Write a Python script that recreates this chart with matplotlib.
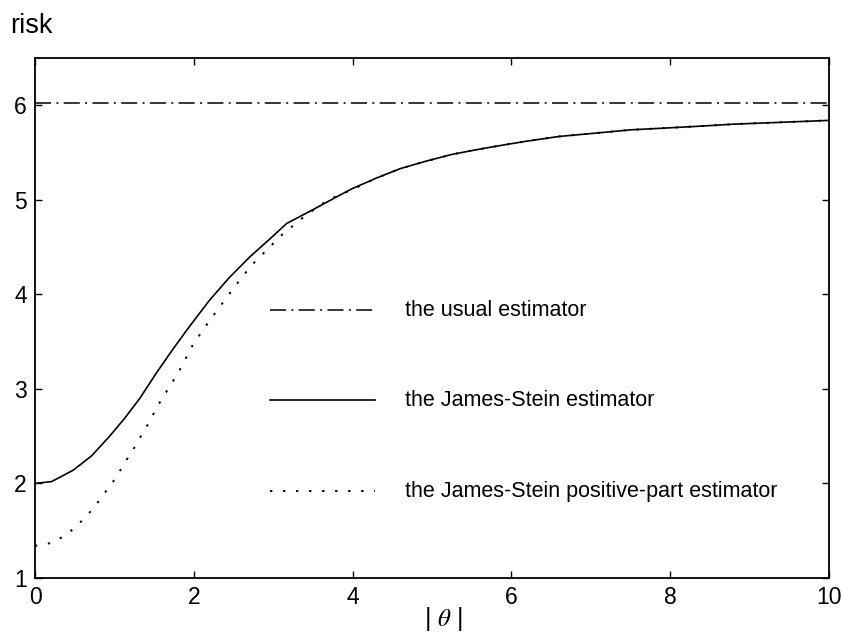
import matplotlib
matplotlib.use("Agg")
import matplotlib.pyplot as plt

plt.rcParams['font.family'] = ['Liberation Sans', 'DejaVu Sans']
plt.rcParams['mathtext.fontset'] = 'stix'

# usual estimator risk (constant)
usual_x = [0, 10]
usual_y = [6.02, 6.02]

# James-Stein estimator risk
js_x = [0.0, 0.21, 0.48, 0.71, 0.94, 1.13, 1.32, 1.53, 1.72, 1.91, 2.0, 2.2, 2.45, 2.71, 2.95,
        3.17, 3.51, 3.84, 4.0, 4.3, 4.6, 4.93, 5.25, 5.56, 5.9, 6.19, 6.6, 7.12, 7.5, 7.96,
        8.4, 8.79, 9.4, 10.0]
js_y = [2.0, 2.02, 2.14, 2.29, 2.50, 2.69, 2.90, 3.17, 3.40, 3.62, 3.72, 3.94, 4.18, 4.40, 4.58,
        4.75, 4.90, 5.05, 5.12, 5.23, 5.33, 5.41, 5.48, 5.53, 5.58, 5.62, 5.67, 5.71, 5.74, 5.76,
        5.78, 5.80, 5.82, 5.84]

# James-Stein positive-part estimator risk
jsp_x = [0.0, 0.2, 0.36, 0.5, 0.63, 0.75, 0.86, 0.97, 1.06, 1.16, 1.26, 1.34, 1.44, 1.53,
         1.67, 1.81, 1.99, 2.18, 2.39, 2.56, 2.73, 2.92, 3.11, 3.40, 3.69, 4.0, 4.3, 4.6,
         4.93, 5.25, 5.56, 5.9, 6.19, 6.6, 7.12, 7.5, 7.96, 8.4, 8.79, 9.4, 10.0]
jsp_y = [1.34, 1.37, 1.44, 1.53, 1.64, 1.75, 1.88, 2.00, 2.12, 2.26, 2.39, 2.51, 2.65, 2.80,
         2.99, 3.18, 3.47, 3.70, 3.94, 4.13, 4.31, 4.47, 4.63, 4.83, 5.00, 5.11, 5.23, 5.33,
         5.41, 5.48, 5.53, 5.58, 5.62, 5.67, 5.71, 5.74, 5.76, 5.78, 5.80, 5.82, 5.84]

labels = ["the usual estimator", "the James-Stein estimator",
          "the James-Stein positive-part estimator"]

x_ticks = [0, 2, 4, 6, 8, 10]
y_ticks = [1, 2, 3, 4, 5, 6]

dashdot = (0, (10.5, 3.5, 1.3, 3.5))
dotted = (0, (1.2, 5.5))

fig = plt.figure(figsize=(8.43, 6.38), dpi=100)
ax = fig.add_axes([35/843, 60/638, (829-35)/843, (578-58)/638])

ax.plot(usual_x, usual_y, color='black', lw=1.1, linestyle=dashdot)
ax.plot(js_x, js_y, color='black', lw=1.2, linestyle='-')
ax.plot(jsp_x, jsp_y, color='black', lw=1.4, linestyle=dotted)

# in-plot legend annotations
leg_x = [2.96, 4.28]
leg_y = [3.83, 2.88, 1.92]
styles = [dashdot, '-', dotted]
widths = [1.1, 1.2, 1.4]
for yy, st, lw, lab in zip(leg_y, styles, widths, labels):
    ax.plot(leg_x, [yy, yy], color='black', lw=lw, linestyle=st)
    ax.text(4.66, yy, lab, fontsize=15.5, va='center', ha='left')

ax.set_xlim(0, 10)
ax.set_ylim(1, 6.5)
ax.set_xticks(x_ticks)
ax.set_yticks(y_ticks)
ax.tick_params(direction='in', top=True, right=True, length=5, width=1,
               labelsize=16.5, pad=6)
for s in ax.spines.values():
    s.set_linewidth(1.3)

fig.text(10/843, 1 - 33/638, "risk", fontsize=19.5, va='baseline', ha='left')
fig.text(443/843, 1 - 619/638, r"| $\theta$ |", fontsize=18, va='center', ha='center')

fig.savefig("out.png", dpi=100)
